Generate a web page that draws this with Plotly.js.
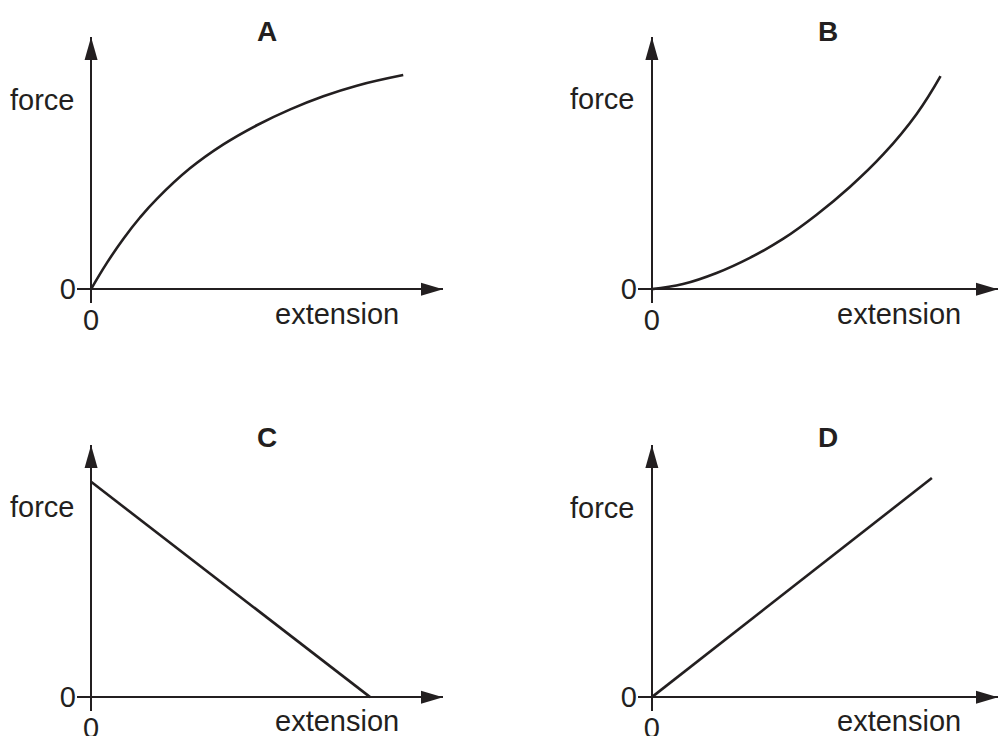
<!DOCTYPE html>
<html>
<head>
<meta charset="utf-8">
<script src="https://cdn.plot.ly/plotly-3.0.1.min.js"></script>
<style>html,body{margin:0;padding:0;background:#fff;}#chart{width:999px;height:736px;}</style>
</head>
<body>
<div id="chart"></div>
<script>
// Panel labels
const panelNames = ["A", "B", "C", "D"];
const xAxisLabel = "extension";
const yAxisLabel = "force";
const tickLabels = ["0"];

// Curve A (force vs extension, concave)
const aExt   = [0, 0.45, 0.92, 1.39, 1.87, 2.81, 3.76, 4.71, 5.66, 6.60, 7.55, 8.87];
const aForce = [0, 1.04, 2.00, 2.84, 3.58, 4.79, 5.74, 6.50, 7.13, 7.65, 8.07, 8.49];

// Curve B (force vs extension, convex)
const bExt   = [0, 0.90, 1.87, 2.83, 3.80, 4.76, 5.72, 6.69, 7.65, 8.34];
const bForce = [0, 0.20, 0.64, 1.24, 2.00, 2.95, 4.05, 5.35, 6.95, 8.45];

// Line C (decreasing)
const cExt   = [0, 7.93];
const cForce = [8.54, 0];

// Line D (proportional)
const dExt   = [0, 8.09];
const dForce = [0, 8.69];

const ink = "#231f20";
const fontFam = "Liberation Sans, Arial, Helvetica, sans-serif";
const W = 999, H = 736;
const textSize = 29;

const series = [
  {x: aExt, y: aForce, shape: "spline"},
  {x: bExt, y: bForce, shape: "spline"},
  {x: cExt, y: cForce, shape: "linear"},
  {x: dExt, y: dForce, shape: "linear"}
];

const axisSuffix = ["", "2", "3", "4"];
const traces = series.map((s, i) => ({
  type: "scatter", mode: "lines",
  x: s.x, y: s.y,
  xaxis: "x" + axisSuffix[i], yaxis: "y" + axisSuffix[i],
  line: {color: ink, width: 2.6, shape: s.shape, smoothing: 1.2},
  hoverinfo: "skip", showlegend: false
}));

// panel placement in pixels (layout only)
const panelLeft  = [77, 638, 77, 638];
const panelRight = [443, 998, 443, 998];
const panelBot   = [303, 303, 711, 711];
const panelTop   = [37, 37, 445, 445];
const xMax = 10, yMax = 10;

const layout = {
  width: W, height: H,
  margin: {l: 0, r: 0, t: 0, b: 0},
  paper_bgcolor: "#fff", plot_bgcolor: "rgba(0,0,0,0)",
  font: {family: fontFam, color: ink, size: textSize},
  showlegend: false,
  annotations: [], shapes: []
};

const titlePos = [[267, 31], [828, 31], [267, 438], [828, 438]];
const forcePos = [[76, 100], [636, 99], [76, 507], [636, 508]];
const extPos   = [[401, 314], [963, 314], [401, 721], [963, 721]];

for (let i = 0; i < 4; i++) {
  const sx = "xaxis" + axisSuffix[i], sy = "yaxis" + axisSuffix[i];
  const xr = "x" + axisSuffix[i], yr = "y" + axisSuffix[i];
  layout[sx] = {
    domain: [panelLeft[i] / W, panelRight[i] / W], range: [-0.4, xMax], anchor: yr,
    showgrid: false, showline: false, ticks: "",
    zeroline: true, zerolinecolor: ink, zerolinewidth: 2.6,
    tickmode: "array", tickvals: [0], ticktext: tickLabels, ticklabelstandoff: -3,
    tickfont: {size: textSize, color: ink, family: fontFam}, fixedrange: true
  };
  layout[sy] = {
    domain: [(H - panelBot[i]) / H, (H - panelTop[i]) / H], range: [-0.55, yMax], anchor: xr,
    showgrid: false, showline: false, ticks: "",
    zeroline: true, zerolinecolor: ink, zerolinewidth: 2.6,
    tickmode: "array", tickvals: [0], ticktext: tickLabels,
    tickfont: {size: textSize, color: ink, family: fontFam}, fixedrange: true
  };
  // arrow heads on axes
  layout.shapes.push({
    type: "path", xref: xr, yref: yr,
    xsizemode: "pixel", ysizemode: "pixel", xanchor: xMax, yanchor: 0,
    path: "M0,0 L-22,6.5 L-22,-6.5 Z", fillcolor: ink, line: {width: 0}
  });
  layout.shapes.push({
    type: "path", xref: xr, yref: yr,
    xsizemode: "pixel", ysizemode: "pixel", xanchor: 0, yanchor: yMax,
    path: "M0,0 L-6.5,-23 L6.5,-23 Z", fillcolor: ink, line: {width: 0}
  });
  // panel title
  layout.annotations.push({
    xref: "paper", yref: "paper",
    x: titlePos[i][0] / W, y: (H - titlePos[i][1]) / H,
    text: "<b>" + panelNames[i] + "</b>", showarrow: false,
    font: {size: 28, family: fontFam, color: ink}, xanchor: "center", yanchor: "middle"
  });
  // y label
  layout.annotations.push({
    xref: "paper", yref: "paper",
    x: forcePos[i][0] / W, y: (H - forcePos[i][1]) / H,
    text: yAxisLabel, showarrow: false,
    font: {size: textSize, family: fontFam, color: ink}, xanchor: "right", yanchor: "middle"
  });
  // x label
  layout.annotations.push({
    xref: "paper", yref: "paper",
    x: extPos[i][0] / W, y: (H - extPos[i][1]) / H,
    text: xAxisLabel, showarrow: false,
    font: {size: textSize, family: fontFam, color: ink}, xanchor: "right", yanchor: "middle"
  });
}

Plotly.newPlot("chart", traces, layout, {staticPlot: true, displayModeBar: false});
</script>
</body>
</html>
